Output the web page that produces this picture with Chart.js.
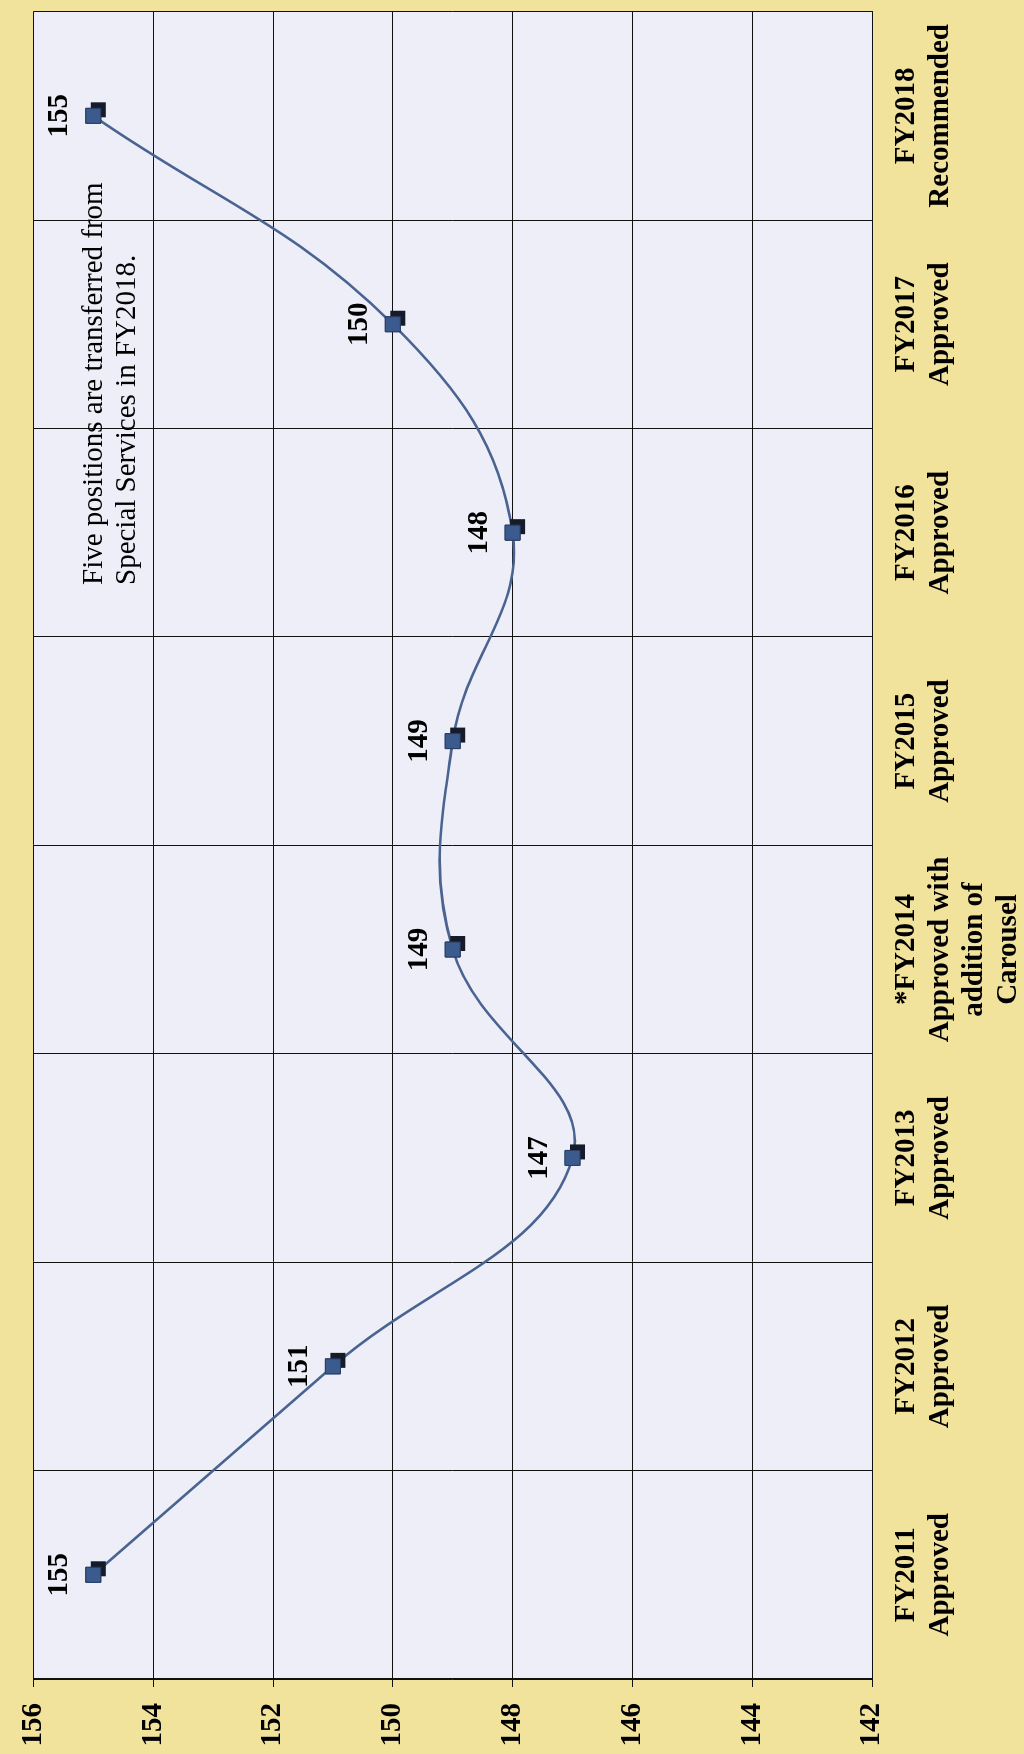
<!DOCTYPE html>
<html><head><meta charset="utf-8">
<script src="https://cdn.jsdelivr.net/npm/chart.js@4"></script>
<style>
html,body{margin:0;padding:0;background:#F2E39C;width:1024px;height:1754px;overflow:hidden}
#wrap{position:absolute;left:0;top:0;width:1754px;height:1024px;transform-origin:0 0;transform:translateY(1754px) rotate(-90deg)}
canvas{display:block}
</style></head><body>
<div id="wrap"><canvas id="c" width="1754" height="1024" style="width:1754px;height:1024px"></canvas></div>
<script>
const categories = [
  ["FY2011","Approved"],
  ["FY2012","Approved"],
  ["FY2013","Approved"],
  ["*FY2014","Approved with","addition of","Carousel"],
  ["FY2015","Approved"],
  ["FY2016","Approved"],
  ["FY2017","Approved"],
  ["FY2018","Recommended"]
];
const positions = [155, 151, 147, 149, 149, 148, 150, 155];
const valueMin = 142;
const valueMax = 156;
const valueStep = 2;
const noteLines = ["Five positions are transferred from", "Special Services in FY2018."];

const SERIF = "'Liberation Serif','Times New Roman',serif";

const plotBg = {
  id: 'plotBg',
  beforeDraw(chart) {
    const a = chart.chartArea, ctx = chart.ctx;
    ctx.save();
    ctx.fillStyle = '#EEEEF8';
    ctx.fillRect(a.left, a.top, a.right - a.left, a.bottom - a.top);
    ctx.restore();
  }
};

const markerShadow = {
  id: 'markerShadow',
  afterDatasetDraw(chart, args) {
    const meta = args.meta, ctx = chart.ctx;
    ctx.save();
    ctx.fillStyle = '#161B2A';
    meta.data.forEach(el => {
      ctx.fillRect(el.x - 7.5 + 6, el.y - 7.5 + 5, 15, 15);
    });
    ctx.restore();
    meta.data.forEach(el => el.draw(ctx, chart.chartArea));
  }
};

const valueLabels = {
  id: 'valueLabels',
  afterDatasetsDraw(chart) {
    const ctx = chart.ctx;
    const meta = chart.getDatasetMeta(0);
    ctx.save();
    ctx.font = "bold 29px " + SERIF;
    ctx.fillStyle = '#000';
    ctx.textAlign = 'center';
    ctx.textBaseline = 'alphabetic';
    meta.data.forEach((el, i) => {
      ctx.fillText(String(positions[i]), el.x, el.y - 26);
    });
    ctx.restore();
  }
};

const note = {
  id: 'note',
  afterDatasetsDraw(chart) {
    const ctx = chart.ctx, a = chart.chartArea;
    ctx.save();
    ctx.font = "29px " + SERIF;
    ctx.fillStyle = '#000';
    ctx.textAlign = 'left';
    ctx.textBaseline = 'alphabetic';
    const x = a.left + 1094;
    ctx.fillText(noteLines[0], x, a.top + 69);
    ctx.fillText(noteLines[1], x, a.top + 102);
    ctx.restore();
  }
};

new Chart(document.getElementById('c'), {
  type: 'line',
  data: {
    labels: categories,
    datasets: [{
      data: positions,
      borderColor: '#4A6491',
      borderWidth: 2.6,
      tension: 0.4,
      fill: false,
      pointStyle: 'rect',
      pointRadius: 10.6,
      pointBackgroundColor: '#3B5A8D',
      pointBorderColor: '#2A3E66',
      pointBorderWidth: 1
    }]
  },
  options: {
    responsive: false,
    animation: false,
    layout: { padding: { left: 7, top: 23, right: 3, bottom: 2 } },
    plugins: { legend: { display: false }, tooltip: { enabled: false } },
    scales: {
      x: {
        type: 'category',
        offset: true,
        grid: { offset: true, color: '#111', lineWidth: 1, drawTicks: false },
        border: { color: '#111', width: 1 },
        ticks: {
          color: '#000',
          font: { family: SERIF, size: 29, weight: 'bold', lineHeight: 1.18 },
          padding: 17,
          maxRotation: 0, minRotation: 0, autoSkip: false
        },
        afterFit(scale) { scale.height = 150; }
      },
      y: {
        min: valueMin, max: valueMax,
        grid: { color: '#111', lineWidth: 1, drawTicks: true, tickLength: 8 },
        border: { color: '#111', width: 1 },
        ticks: {
          stepSize: valueStep,
          color: '#000',
          font: { family: SERIF, size: 29, weight: 'bold' },
          padding: 16
        },
        afterFit(scale) { scale.width = 68; }
      }
    }
  },
  plugins: [plotBg, markerShadow, valueLabels, note]
});
</script>
</body></html>
